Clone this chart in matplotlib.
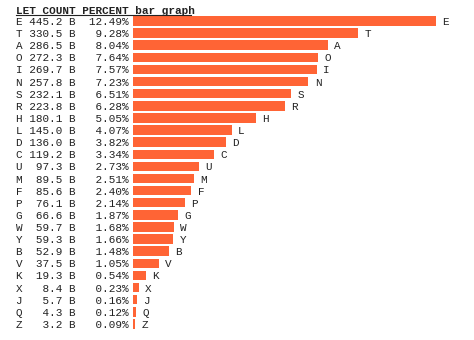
import matplotlib.pyplot as plt
from matplotlib.transforms import blended_transform_factory
from matplotlib.lines import Line2D

# letter frequency data (counts in "B" units, percent of total)
letters = ["E", "T", "A", "O", "I", "N", "S", "R", "H", "L", "D", "C", "U",
           "M", "F", "P", "G", "W", "Y", "B", "V", "K", "X", "J", "Q", "Z"]
counts = [445.2, 330.5, 286.5, 272.3, 269.7, 257.8, 232.1, 223.8, 180.1,
          145.0, 136.0, 119.2, 97.3, 89.5, 85.6, 76.1, 66.6, 59.7, 59.3,
          52.9, 37.5, 19.3, 8.4, 5.7, 4.3, 3.2]
percents = [12.49, 9.28, 8.04, 7.64, 7.57, 7.23, 6.51, 6.28, 5.05, 4.07,
            3.82, 3.34, 2.73, 2.51, 2.40, 2.14, 1.87, 1.68, 1.66, 1.48,
            1.05, 0.54, 0.23, 0.16, 0.12, 0.09]
header = "LET COUNT PERCENT bar graph"

W, H = 474, 340
mono = "Liberation Mono"
fs = 7.9
barColour = "#ff6435"
textColour = "#222222"

fig = plt.figure(figsize=(W / 100, H / 100), dpi=100)

#axes placed in pixels so the bars line up with the text table
left, right = 133, 436
top, bottom = 14.9, 330
ax = fig.add_axes([left / W, 1 - bottom / H, (right - left) / W, (bottom - top) / H])
ys = list(range(len(letters)))
ax.barh(ys, counts, height=0.78, color=barColour)
ax.set_xlim(0, max(counts))
ax.set_ylim(len(letters) - 0.5, -0.5)
ax.axis("off")

#letter labels at the end of each bar
for y, c, l in zip(ys, counts, letters):
    ax.annotate(l, (c, y), xytext=(4.5, 0), textcoords="offset points",
                va="center_baseline", ha="left", fontsize=fs, family=mono,
                color=textColour, annotation_clip=False)

#text table on the left
trans = blended_transform_factory(fig.transFigure, ax.transData)
for y, l, c, p in zip(ys, letters, counts, percents):
    row = f"{l} {c:5.1f} B  {p:5.2f}%"
    row = f"{l} {c:5.1f} B {p:6.2f}%"
    ax.text(16 / W, y, row, transform=trans, va="center_baseline", ha="left",
            fontsize=fs, family=mono, color=textColour)

#underlined bold header
fig.text(16 / W, 1 - 10 / H, header, va="center_baseline", ha="left",
         fontsize=fs, family=mono, fontweight="bold", color=textColour)
fig.add_artist(Line2D([16 / W, 191 / W], [1 - 14.7 / H, 1 - 14.7 / H],
                      color=textColour, lw=0.8, transform=fig.transFigure))

fig.savefig("out.png", dpi=100)
